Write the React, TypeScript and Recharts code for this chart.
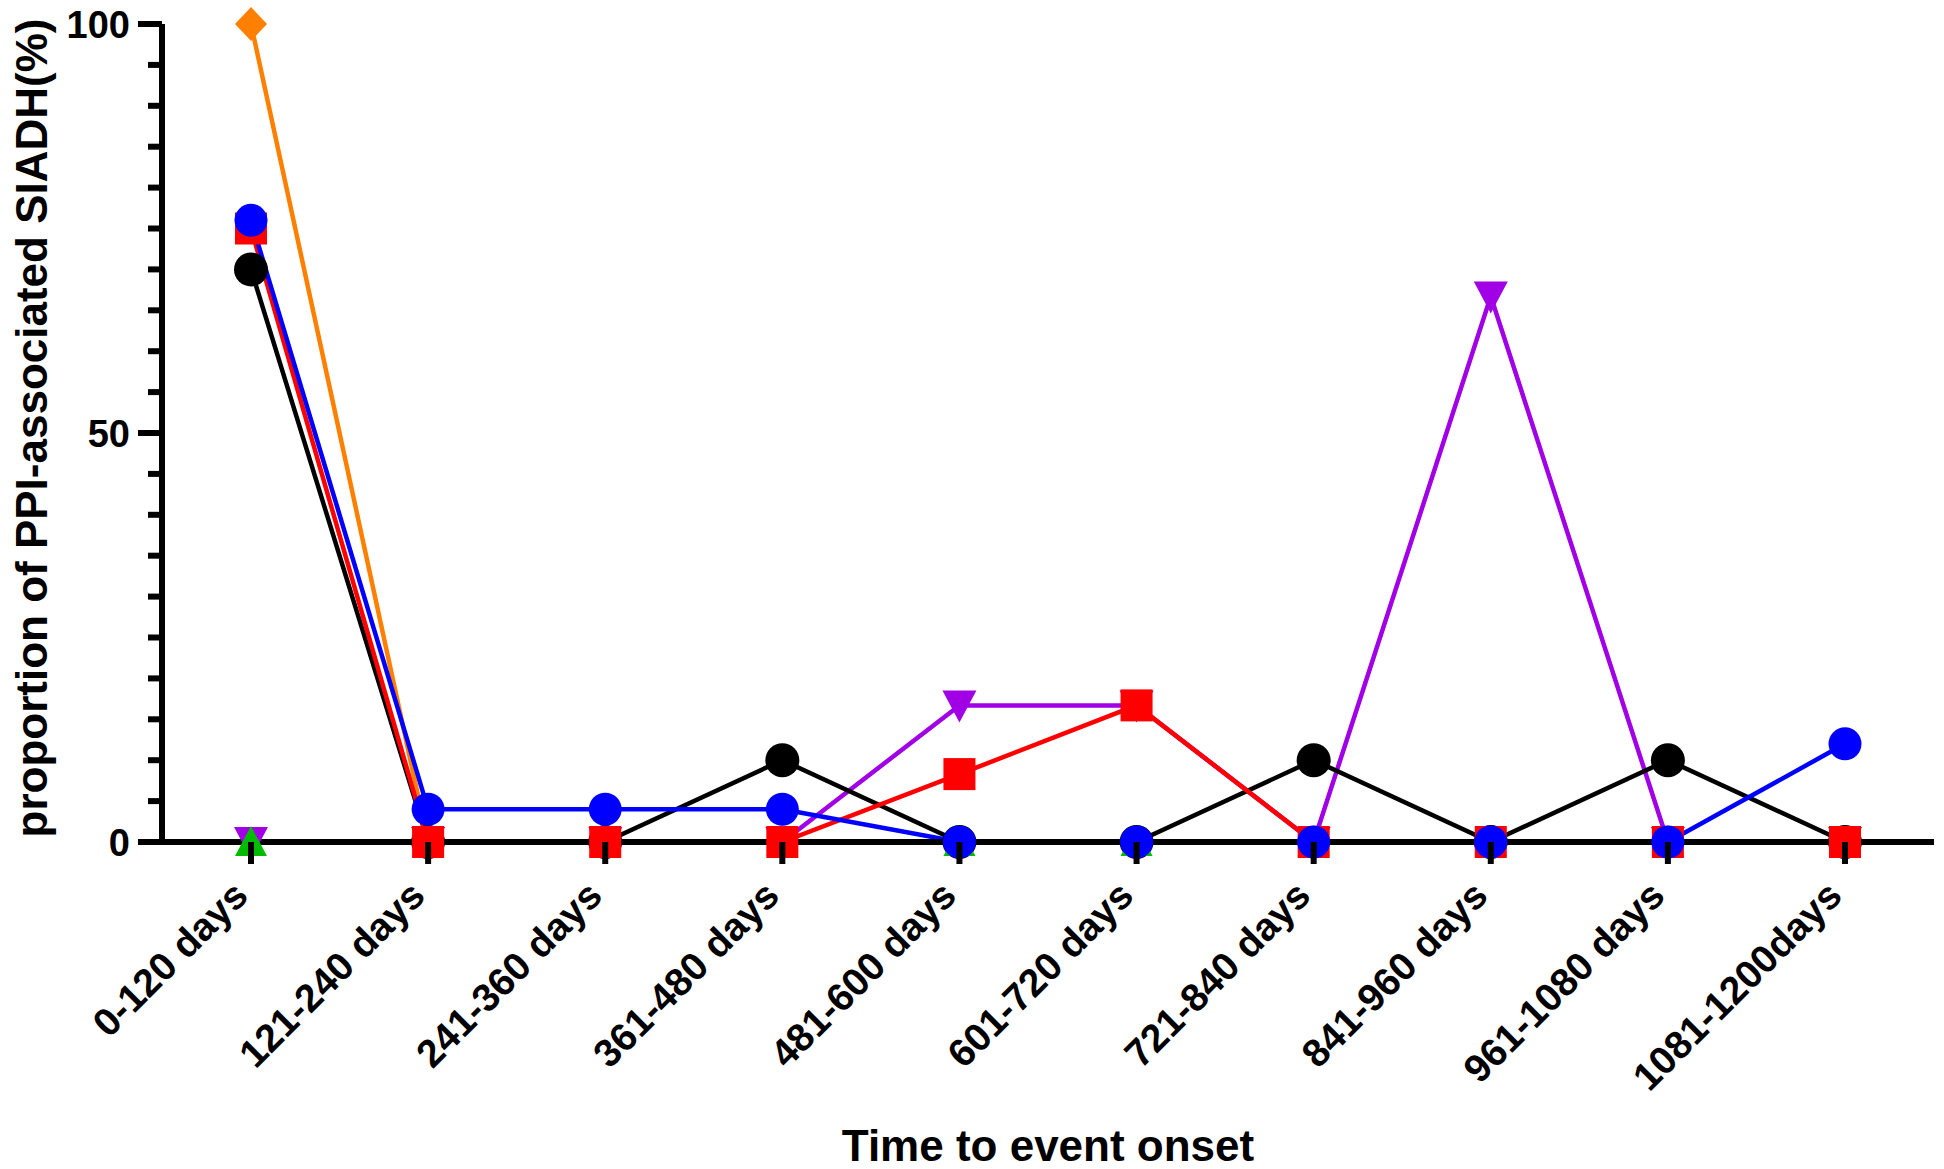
import React from 'react';
import { LineChart, Line, XAxis, YAxis } from 'recharts';

const categories = [
  '0-120 days', '121-240 days', '241-360 days', '361-480 days', '481-600 days',
  '601-720 days', '721-840 days', '841-960 days', '961-1080 days', '1081-1200days',
];

// proportion (%) per time window, one array per series
const orangeVals = [100, 0, 0, 0, 0, 0, 0, 0, 0, 0];
const purpleVals = [0, 0, 0, 0, 16.7, 16.7, 0, 66.7, 0, 0];
const blackVals = [70, 0, 0, 10, 0, 0, 10, 0, 10, 0];
const greenVals = [0, 0, 0, 0, 0, 0, 0, 0, 0, 0];
const redVals = [75, 0, 0, 0, 8.3, 16.7, 0, 0, 0, 0];
const blueVals = [76, 4, 4, 4, 0, 0, 0, 0, 0, 12];

const yTicks = [0, 5, 10, 15, 20, 25, 30, 35, 40, 45, 50, 55, 60, 65, 70, 75, 80, 85, 90, 95, 100];
const yMajor = [0, 50, 100];

const FONT = '"Liberation Sans", Arial, Helvetica, sans-serif';

const data = categories.map((name, i) => ({
  name,
  orange: orangeVals[i],
  purple: purpleVals[i],
  black: blackVals[i],
  green: greenVals[i],
  red: redVals[i],
  blue: blueVals[i],
}));

type Shape = 'circle' | 'square' | 'diamond' | 'triUp' | 'triDown';

const makeDot = (shape: Shape, color: string, size = 16) => (props: any) => {
  const { cx, cy, index } = props;
  if (cx == null || cy == null) return <g key={`d-${index}`} />;
  const s = size;
  if (shape === 'circle') return <circle key={`d-${index}`} cx={cx} cy={cy} r={s + 1} fill={color} />;
  if (shape === 'square')
    return <rect key={`d-${index}`} x={cx - s} y={cy - s} width={s * 2} height={s * 2} fill={color} />;
  let pts = '';
  if (shape === 'diamond') pts = `${cx},${cy - s - 1} ${cx + s},${cy} ${cx},${cy + s + 1} ${cx - s},${cy}`;
  if (shape === 'triUp') pts = `${cx},${cy - s} ${cx + s},${cy + s - 2} ${cx - s},${cy + s - 2}`;
  if (shape === 'triDown') pts = `${cx - s},${cy - s + 2} ${cx + s},${cy - s + 2} ${cx},${cy + s}`;
  return <polygon key={`d-${index}`} points={pts} fill={color} />;
};

const XTick = (props: any) => {
  const { x, y, payload } = props;
  const tx = x - 1;
  const ty = y + 56;
  return (
    <g>
      <line x1={x} y1={y} x2={x} y2={y + 22} stroke="#000" strokeWidth={6} />
      <text
        x={tx}
        y={ty}
        transform={`rotate(-45, ${tx}, ${ty})`}
        textAnchor="end"
        fontFamily={FONT}
        fontWeight="bold"
        fontSize={39}
        fill="#000"
      >
        {payload.value}
      </text>
    </g>
  );
};

const YTick = (props: any) => {
  const { x, y, payload } = props;
  const major = yMajor.includes(payload.value);
  const len = major ? 24 : 14;
  return (
    <g>
      <line x1={x - len} y1={y} x2={x} y2={y} stroke="#000" strokeWidth={6} />
      {major && (
        <text
          x={x - 32}
          y={y}
          dy="0.36em"
          textAnchor="end"
          fontFamily={FONT}
          fontWeight="bold"
          fontSize={38}
          fill="#000"
        >
          {payload.value}
        </text>
      )}
    </g>
  );
};

export default function App() {
  return (
    <div style={{ position: 'absolute', left: 0, top: 0, width: 1944, height: 1169, background: '#fff' }}>
      <LineChart width={1944} height={1169} data={data} margin={{ top: 24, right: 10, bottom: 0, left: 0 }}>
        <XAxis
          dataKey="name"
          height={327}
          interval={0}
          padding={{ left: 89, right: 89 }}
          tickSize={0}
          tickMargin={0}
          tickLine={false}
          axisLine={{ stroke: '#000', strokeWidth: 6 }}
          tick={<XTick />}
          label={{
            content: (p: any) => {
              const vb = p.viewBox || { x: 162, y: 842, width: 1772, height: 327 };
              return (
                <text
                  x={vb.x + vb.width / 2}
                  y={vb.y + vb.height - 8}
                  textAnchor="middle"
                  fontFamily={FONT}
                  fontWeight="bold"
                  fontSize={44}
                  fill="#000"
                >
                  Time to event onset
                </text>
              );
            },
          }}
        />
        <YAxis
          width={162}
          domain={[0, 100]}
          ticks={yTicks}
          interval={0}
          tickSize={0}
          tickMargin={0}
          tickLine={false}
          axisLine={{ stroke: '#000', strokeWidth: 6 }}
          tick={<YTick />}
          label={{
            content: (p: any) => {
              const vb = p.viewBox || { x: 0, y: 24, width: 162, height: 818 };
              const cx = 47;
              const cy = vb.y + vb.height / 2 - 5;
              return (
                <text
                  x={cx}
                  y={cy}
                  transform={`rotate(-90, ${cx}, ${cy})`}
                  textAnchor="middle"
                  fontFamily={FONT}
                  fontWeight="bold"
                  fontSize={44}
                  fill="#000"
                >
                  proportion of PPI-associated SIADH(%)
                </text>
              );
            },
          }}
        />
        <Line dataKey="orange" stroke="#ff8000" strokeWidth={4.5} dot={makeDot('diamond', '#ff8000')} activeDot={false} isAnimationActive={false} />
        <Line dataKey="purple" stroke="#a100e6" strokeWidth={4.5} dot={makeDot('triDown', '#a100e6', 17)} activeDot={false} isAnimationActive={false} />
        <Line dataKey="black" stroke="#000000" strokeWidth={4.5} dot={makeDot('circle', '#000000')} activeDot={false} isAnimationActive={false} />
        <Line dataKey="green" stroke="#00bb00" strokeWidth={4.5} dot={makeDot('triUp', '#00bb00')} activeDot={false} isAnimationActive={false} />
        <Line dataKey="red" stroke="#ff0000" strokeWidth={4.5} dot={makeDot('square', '#ff0000')} activeDot={false} isAnimationActive={false} />
        <Line dataKey="blue" stroke="#0000ff" strokeWidth={4.5} dot={makeDot('circle', '#0000ff', 15.5)} activeDot={false} isAnimationActive={false} />
      </LineChart>
    </div>
  );
}
